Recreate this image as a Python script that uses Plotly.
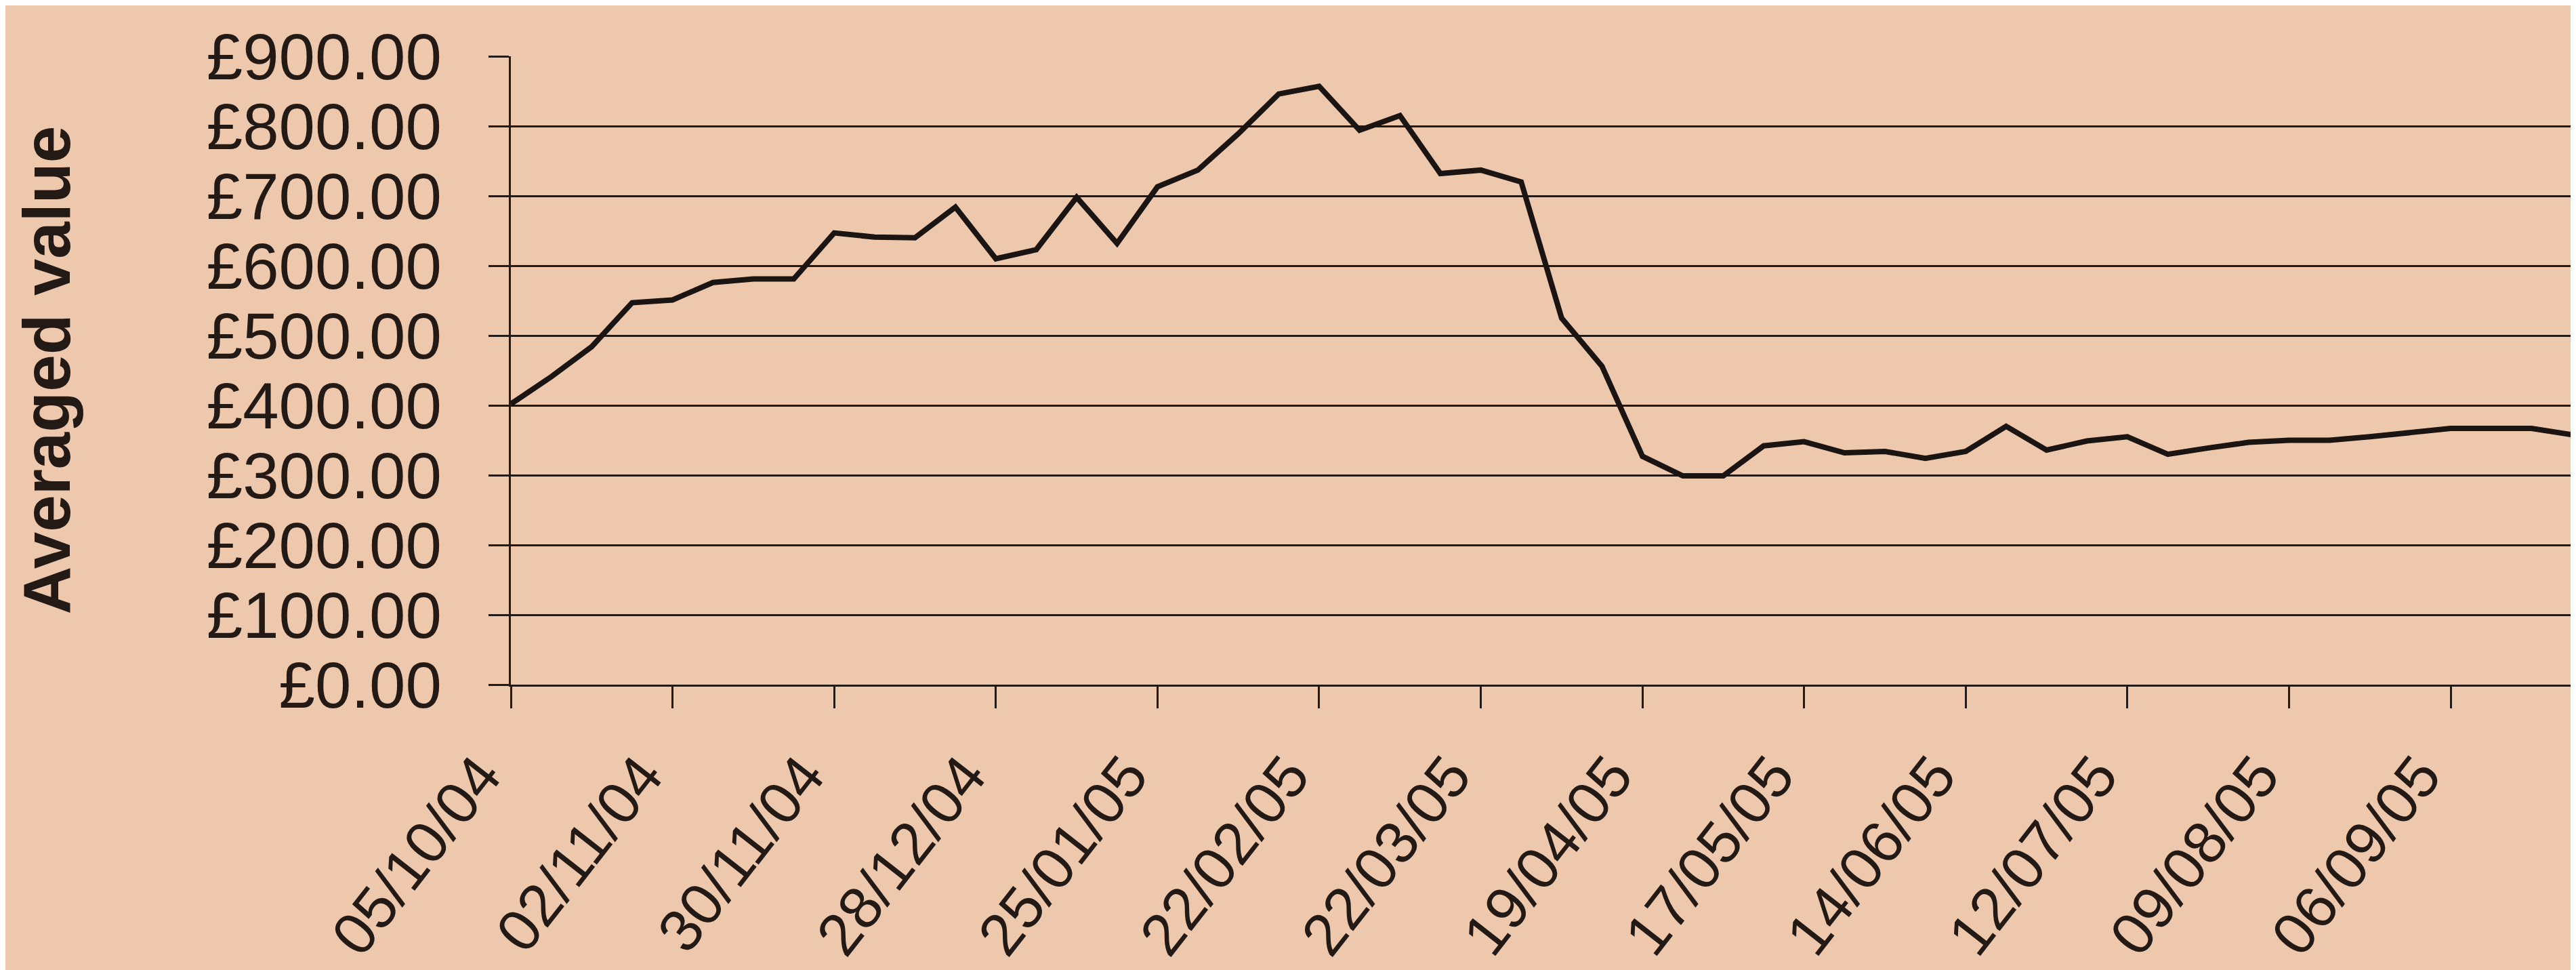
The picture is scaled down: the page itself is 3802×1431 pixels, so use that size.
import plotly.graph_objects as go

dates = [
    "05/10/04", "12/10/04", "19/10/04", "26/10/04",
    "02/11/04", "09/11/04", "16/11/04", "23/11/04", "30/11/04",
    "07/12/04", "14/12/04", "21/12/04", "28/12/04",
    "04/01/05", "11/01/05", "18/01/05", "25/01/05",
    "01/02/05", "08/02/05", "15/02/05", "22/02/05",
    "01/03/05", "08/03/05", "15/03/05", "22/03/05", "29/03/05",
    "05/04/05", "12/04/05", "19/04/05", "26/04/05",
    "03/05/05", "10/05/05", "17/05/05", "24/05/05", "31/05/05",
    "07/06/05", "14/06/05", "21/06/05", "28/06/05",
    "05/07/05", "12/07/05", "19/07/05", "26/07/05",
    "02/08/05", "09/08/05", "16/08/05", "23/08/05", "30/08/05",
    "06/09/05", "13/09/05", "20/09/05", "27/09/05",
]

values = [
    402, 441, 484, 547, 551, 576, 581, 581, 647, 641,
    640, 684, 610, 623, 698, 632, 713, 737, 789, 846,
    857, 794, 815, 732, 737, 720, 525, 456, 327, 299,
    299, 342, 348, 332, 334, 324, 334, 370, 336, 349,
    355, 330, 339, 347, 350, 350, 355, 361, 367, 367,
    367, 358,
]

tick_labels = [
    "05/10/04", "02/11/04", "30/11/04", "28/12/04", "25/01/05",
    "22/02/05", "22/03/05", "19/04/05", "17/05/05", "14/06/05",
    "12/07/05", "09/08/05", "06/09/05",
]

y_ticks = [0, 100, 200, 300, 400, 500, 600, 700, 800, 900]
y_tick_text = ["£%.2f" % v for v in y_ticks]

BG = "#EEC8AD"
INK = "#231A16"
FONT = "Liberation Sans, Arial, sans-serif"

fig = go.Figure()
fig.add_trace(go.Scatter(
    x=dates, y=values, mode="lines",
    line=dict(color="#1A1412", width=8),
    showlegend=False, hoverinfo="skip",
))

fig.update_layout(
    width=3802, height=1431,
    paper_bgcolor=BG, plot_bgcolor=BG,
    margin=dict(l=746, r=14, t=75, b=424, pad=0),
    font=dict(family=FONT, color=INK),
    xaxis=dict(
        type="category",
        categoryorder="array", categoryarray=dates,
        range=[0, len(dates) - 1],
        tickmode="array", tickvals=tick_labels, ticktext=tick_labels,
        tickangle=-52,
        tickfont=dict(size=88, family=FONT, color=INK),
        ticks="outside", ticklen=32, tickwidth=3, tickcolor=INK,
        showline=True, linewidth=3, linecolor=INK,
        showgrid=False, zeroline=False,
        ticklabelstandoff=12,
        ticklabelshift=-45,
    ),
    yaxis=dict(
        range=[0, 900],
        tickmode="array", tickvals=y_ticks, ticktext=y_tick_text,
        tickfont=dict(size=96, family=FONT, color=INK),
        ticks="outside", ticklen=30, tickwidth=3, tickcolor=INK,
        showline=True, linewidth=3, linecolor=INK,
        showgrid=True, gridwidth=3, gridcolor=INK,
        zeroline=False,
        ticklabelstandoff=50,
    ),
    annotations=[dict(
        text="<b>Averaged value</b>",
        xref="paper", yref="paper",
        x=(60 - 746) / 3042, y=0.5,
        xanchor="center", yanchor="middle",
        textangle=-90, showarrow=False,
        font=dict(size=98, family=FONT, color=INK),
    )],
)

fig.write_html("out.html")
